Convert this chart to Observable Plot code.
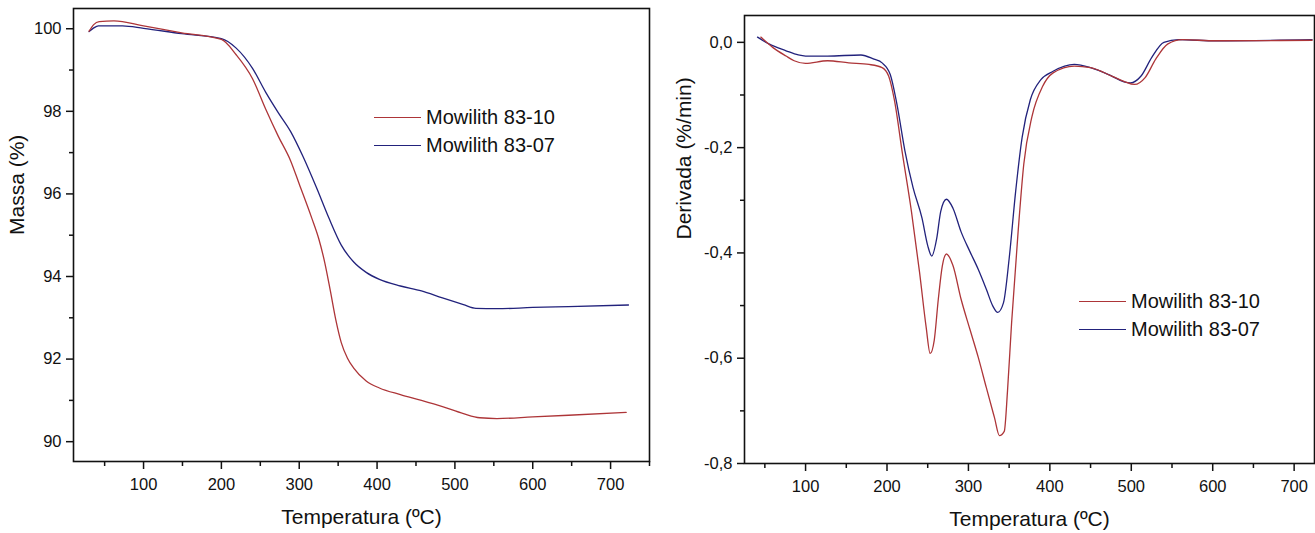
<!DOCTYPE html>
<html><head><meta charset="utf-8">
<script src="https://cdn.jsdelivr.net/npm/d3@7"></script>
<script src="https://cdn.jsdelivr.net/npm/@observablehq/plot@0.6"></script>
<style>
body{margin:0;background:#fff;font-family:"Liberation Sans",Arial,sans-serif;}
#wrap{position:relative;width:1315px;height:533px;overflow:hidden;}
#left{position:absolute;left:0;top:0}
#right{position:absolute;left:657px;top:0}
.leg{position:absolute;font-size:20px;color:#111;display:flex;align-items:center;height:24px;white-space:nowrap;}
.leg .sw{display:inline-block;width:47px;height:0;border-top:1.3px solid;margin-right:5px}
</style></head><body>
<div id="wrap"><div id="left"></div><div id="right"></div></div>
<script>
// ---- Series names / colours
const seriesNames = ["Mowilith 83-10", "Mowilith 83-07"];
const seriesColors = ["#ad3538", "#22227c"];

// ---- TGA (Massa %) vs Temperatura (ºC)
const tgaTemp10 = [30, 36, 43, 62, 100, 149, 200, 219, 240, 257, 273, 289, 300, 316, 325, 333, 340, 347, 354, 362, 370, 386, 403, 430, 457, 484, 511, 532, 554, 600, 646, 720];
const tgaMass10 = [99.94, 100.10, 100.17, 100.19, 100.07, 99.90, 99.74, 99.37, 98.79, 98.05, 97.40, 96.80, 96.24, 95.42, 94.92, 94.32, 93.65, 92.95, 92.40, 92.02, 91.78, 91.47, 91.30, 91.14, 91.00, 90.85, 90.68, 90.58, 90.56, 90.60, 90.64, 90.71];
const tgaTemp07 = [30, 36, 42, 73, 100, 149, 200, 219, 240, 257, 273, 289, 305, 322, 338, 354, 370, 386, 403, 430, 457, 484, 511, 527, 554, 600, 646, 723];
const tgaMass07 = [99.93, 100.02, 100.07, 100.07, 100.01, 99.88, 99.76, 99.53, 99.04, 98.46, 97.97, 97.51, 96.90, 96.16, 95.42, 94.76, 94.35, 94.10, 93.93, 93.77, 93.65, 93.48, 93.32, 93.23, 93.22, 93.25, 93.27, 93.31];

// ---- DTG (Derivada %/min) vs Temperatura (ºC)
const dtgTemp10 = [45, 60, 76, 86, 100, 127, 153, 178, 194, 202, 209, 219, 230, 240, 248, 253, 258, 263, 268, 273, 281, 291, 302, 312, 322, 332, 338, 344, 348, 353, 361, 368, 378, 391, 404, 430, 450, 476, 491, 504, 517, 530, 545, 563, 604, 722];
const dtgDeriv10 = [0.010, -0.010, -0.026, -0.035, -0.040, -0.035, -0.039, -0.042, -0.048, -0.064, -0.109, -0.212, -0.321, -0.437, -0.540, -0.591, -0.566, -0.488, -0.424, -0.402, -0.424, -0.488, -0.546, -0.598, -0.656, -0.713, -0.747, -0.739, -0.662, -0.533, -0.360, -0.231, -0.141, -0.084, -0.058, -0.045, -0.048, -0.064, -0.074, -0.080, -0.067, -0.032, -0.003, 0.005, 0.003, 0.004];
const dtgTemp07 = [41, 55, 76, 91, 100, 127, 168, 184, 194, 204, 212, 222, 232, 243, 250, 255, 261, 266, 273, 281, 291, 302, 312, 322, 330, 336, 343, 350, 358, 366, 376, 389, 404, 430, 450, 476, 491, 499, 512, 525, 540, 558, 604, 722];
const dtgDeriv07 = [0.010, -0.003, -0.016, -0.024, -0.026, -0.026, -0.024, -0.032, -0.039, -0.061, -0.116, -0.206, -0.276, -0.334, -0.386, -0.406, -0.373, -0.321, -0.298, -0.315, -0.360, -0.398, -0.431, -0.469, -0.501, -0.513, -0.495, -0.411, -0.283, -0.180, -0.109, -0.071, -0.055, -0.042, -0.048, -0.064, -0.075, -0.077, -0.064, -0.029, 0.000, 0.005, 0.003, 0.005];

// ---- Tick values
const xTicks = [100, 200, 300, 400, 500, 600, 700];
const xMinorTicksL = [50, 150, 250, 350, 450, 550, 650, 750];
const xMinorTicksR = [50, 150, 250, 350, 450, 550, 650];
const yTicksL = [90, 92, 94, 96, 98, 100];
const yMinorTicksL = [91, 93, 95, 97, 99];
const yTicksR = [0, -0.2, -0.4, -0.6, -0.8];
const yMinorTicksR = [-0.1, -0.3, -0.5, -0.7];

const xLabel = "Temperatura (ºC)";
const yLabelL = "Massa (%)";
const yLabelR = "Derivada (%/min)";

const rows = (xs, ys, s) => xs.map((x, i) => ({x, y: ys[i], s}));
const tga = [...rows(tgaTemp10, tgaMass10, seriesNames[0]), ...rows(tgaTemp07, tgaMass07, seriesNames[1])];
const dtg = [...rows(dtgTemp10, dtgDeriv10, seriesNames[0]), ...rows(dtgTemp07, dtgDeriv07, seriesNames[1])];

const font = "'Liberation Sans', Arial, sans-serif";
const commaFmt = d => d.toFixed(1).replace(".", ",");

function panel({data, width, mL, mR, mT, mB, xDomain, yDomain, yTicks, yMinor, xMinor, yFmt, yLabel, yLabelDx}) {
  return Plot.plot({
    width, height: 533,
    marginLeft: mL, marginRight: mR, marginTop: mT, marginBottom: mB,
    style: {fontFamily: font, fontSize: "16px", color: "#111", background: "white"},
    x: {domain: xDomain},
    y: {domain: yDomain},
    color: {domain: seriesNames, range: seriesColors},
    marks: [
      Plot.line(data.filter(d => d.s === seriesNames[1]), {x: "x", y: "y", stroke: "s", strokeWidth: 1.3, curve: "monotone-x"}),
      Plot.line(data.filter(d => d.s === seriesNames[0]), {x: "x", y: "y", stroke: "s", strokeWidth: 1.3, curve: "monotone-x"}),
      Plot.frame({stroke: "#111", strokeWidth: 1.6}),
      Plot.axisX(xTicks, {tickSize: 8, tickPadding: 9, label: null, strokeWidth: 1.5, fontSize: 16.5}),
      Plot.axisX(xMinor, {tickSize: 5, text: null, label: null, strokeWidth: 1.5}),
      Plot.axisY(yTicks, {tickSize: 7, tickPadding: 5, label: null, strokeWidth: 1.5, tickFormat: yFmt, fontSize: 16.5}),
      Plot.axisY(yMinor, {tickSize: 4, text: null, label: null, strokeWidth: 1.5}),
      Plot.text([xLabel], {frameAnchor: "bottom", dy: 62, fontSize: 21, fill: "#111"}),
      Plot.text([yLabel], {frameAnchor: "left", dx: yLabelDx, rotate: -90, fontSize: 21, fill: "#111"})
    ]
  });
}

const left = panel({data: tga, width: 657, mL: 73, mR: 8, mT: 8, mB: 72,
  xDomain: [10, 750], yDomain: [89.52, 100.49], yTicks: yTicksL, yMinor: yMinorTicksL, xMinor: xMinorTicksL,
  yFmt: d => String(d), yLabel: yLabelL, yLabelDx: -56});
const right = panel({data: dtg, width: 658, mL: 87, mR: 1, mT: 15, mB: 70,
  xDomain: [25, 725], yDomain: [-0.8, 0.051], yTicks: yTicksR, yMinor: yMinorTicksR, xMinor: xMinorTicksR,
  yFmt: commaFmt, yLabel: yLabelR, yLabelDx: -60});
document.getElementById("left").appendChild(left);
document.getElementById("right").appendChild(right);

// ---- Legends
function legend(x, y) {
  seriesNames.forEach((name, i) => {
    const d = document.createElement("div");
    d.className = "leg";
    d.style.left = x + "px";
    d.style.top = (y + i * 28 - 12) + "px";
    d.innerHTML = `<span class="sw" style="border-color:${seriesColors[i]}"></span>${name}`;
    document.getElementById("wrap").appendChild(d);
  });
}
legend(374, 117);
legend(1079, 301);
</script>
</body></html>
